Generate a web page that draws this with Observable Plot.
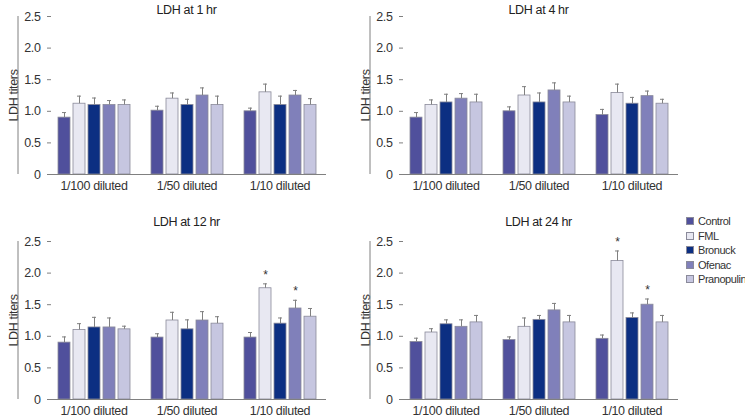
<!DOCTYPE html>
<html>
<head>
<meta charset="utf-8">
<script src="https://cdn.jsdelivr.net/npm/d3@7"></script>
<script src="https://cdn.jsdelivr.net/npm/@observablehq/plot@0.6"></script>
<style>
  html, body { margin: 0; padding: 0; background: #fff; overflow: hidden; }
  #root { position: relative; width: 745px; height: 417px; font-family: "Liberation Sans", Arial, sans-serif; color: #333; }
  .panel { position: absolute; }
  .panel svg text { letter-spacing: -0.35px; }
  .title { position: absolute; font-size: 12.5px; letter-spacing: -0.35px; transform: translate(-50%, -50%); white-space: nowrap; color: #222; }
  .legend { position: absolute; left: 686px; top: 214px; font-size: 11px; letter-spacing: -0.45px; color: #333; }
  .legend div { display: flex; align-items: center; height: 14.5px; white-space: nowrap; }
  .legend span.sw { display: inline-block; width: 6px; height: 6px; border: 1px solid #8a8a9a; margin-right: 4px; }
</style>
</head>
<body>
<div id="root"></div>
<script>
const groups = ["1/100 diluted", "1/50 diluted", "1/10 diluted"];
const series = ["Control", "FML", "Bronuck", "Ofenac", "Pranopulin"];
const seriesColors = ["#50509c", "#e8e8f2", "#0c2f82", "#8080ba", "#c6c6e0"];
const titles = ["LDH at 1 hr", "LDH at 4 hr", "LDH at 12 hr", "LDH at 24 hr"];

// means per group (rows) x series (cols)
const mean1hr = [[0.90, 1.12, 1.10, 1.10, 1.10], [1.01, 1.20, 1.10, 1.25, 1.10], [1.00, 1.30, 1.10, 1.25, 1.10]];
const err1hr  = [[0.08, 0.12, 0.11, 0.07, 0.08], [0.07, 0.09, 0.09, 0.12, 0.14], [0.05, 0.13, 0.14, 0.08, 0.10]];
const mean4hr = [[0.90, 1.10, 1.14, 1.20, 1.14], [1.00, 1.25, 1.14, 1.33, 1.14], [0.94, 1.29, 1.12, 1.24, 1.12]];
const err4hr  = [[0.08, 0.08, 0.13, 0.08, 0.13], [0.07, 0.14, 0.15, 0.12, 0.10], [0.09, 0.14, 0.10, 0.08, 0.07]];
const mean12hr = [[0.90, 1.10, 1.14, 1.14, 1.11], [0.98, 1.25, 1.11, 1.25, 1.20], [0.98, 1.76, 1.20, 1.44, 1.31]];
const err12hr  = [[0.09, 0.10, 0.16, 0.15, 0.05], [0.06, 0.13, 0.15, 0.14, 0.11], [0.08, 0.07, 0.09, 0.13, 0.13]];
const mean24hr = [[0.91, 1.06, 1.19, 1.15, 1.22], [0.94, 1.15, 1.26, 1.41, 1.22], [0.96, 2.19, 1.29, 1.50, 1.22]];
const err24hr  = [[0.06, 0.06, 0.07, 0.11, 0.11], [0.05, 0.14, 0.07, 0.11, 0.11], [0.06, 0.16, 0.08, 0.09, 0.11]];
// significant bars: [group, series]
const sig1hr = [];
const sig4hr = [];
const sig12hr = [["1/10 diluted", "FML"], ["1/10 diluted", "Ofenac"]];
const sig24hr = [["1/10 diluted", "FML"], ["1/10 diluted", "Ofenac"]];

const panels = [
  {title: titles[0], mean: mean1hr, err: err1hr, sig: sig1hr, left: 0, top: 0},
  {title: titles[1], mean: mean4hr, err: err4hr, sig: sig4hr, left: 352, top: 0},
  {title: titles[2], mean: mean12hr, err: err12hr, sig: sig12hr, left: 0, top: 225},
  {title: titles[3], mean: mean24hr, err: err24hr, sig: sig24hr, left: 352, top: 225}
];

const root = document.getElementById("root");
const W = 340, H = 200, ML = 47, MR = 14, MT = 16, MB = 26;
const axisGray = "#808080";

for (const p of panels) {
  const rows = [];
  groups.forEach((g, gi) => series.forEach((s, si) => {
    rows.push({group: g, series: s, value: p.mean[gi][si], top: p.mean[gi][si] + p.err[gi][si],
               sig: p.sig.some(([sg, ss]) => sg === g && ss === s)});
  }));
  const seps = groups.slice(1);
  const groupW = (W - ML - MR) / groups.length;

  const chart = Plot.plot({
    width: W, height: H,
    marginLeft: ML, marginRight: MR, marginTop: MT, marginBottom: MB,
    style: {fontFamily: '"Liberation Sans", Arial, sans-serif', fontSize: "12.5px", color: "#333", background: "transparent", overflow: "visible"},
    fx: {domain: groups, padding: 0, label: null, axis: null},
    x: {domain: series, paddingInner: 0.2, paddingOuter: 0.7, axis: null},
    y: {domain: [0, 2.5], axis: null},
    color: {domain: series, range: seriesColors},
    marks: [
      Plot.barY(rows, {fx: "group", x: "series", y: "value", fill: "series", stroke: "#8a8a9a", strokeWidth: 0.8}),
      Plot.ruleX(rows, {fx: "group", x: "series", y1: "value", y2: "top", stroke: axisGray, strokeWidth: 1}),
      Plot.tickY(rows, {fx: "group", x: "series", y: "top", stroke: axisGray, strokeWidth: 1, insetLeft: 4, insetRight: 4}),
      Plot.text(rows.filter(d => d.sig), {fx: "group", x: "series", y: "top", text: () => "*", dy: -9, fontSize: 12, fill: "#333"}),
      Plot.ruleY([0], {stroke: axisGray, strokeWidth: 1}),
      Plot.ruleX(seps, {fx: d => d, y1: 0, y2: 0.06, dx: -groupW / 2, stroke: axisGray}),
      Plot.axisFx({anchor: "bottom", tickSize: 0, tickPadding: 7, label: null, fontSize: 12.5, fill: "#333"}),
      Plot.axisY({ticks: 5, anchor: "left", tickSize: -4, tickPadding: 11, stroke: axisGray,
                  tickFormat: d => d === 0 ? "0" : d.toFixed(1), fontSize: 12.5, fill: "#333",
                  label: "LDH titers", labelAnchor: "center", labelOffset: 38, labelArrow: "none"}),
      Plot.ruleX([0], {fx: () => groups[0], x: () => series[0], y1: 0, y2: 2.5, dx: -groupW / 2, stroke: axisGray})
    ]
  });
  const div = document.createElement("div");
  div.className = "panel";
  div.style.left = p.left + "px";
  div.style.top = p.top + "px";
  div.appendChild(chart);
  root.appendChild(div);

  const t = document.createElement("div");
  t.className = "title";
  t.textContent = p.title;
  t.style.left = (p.left + ML + (W - ML - MR) / 2) + "px";
  t.style.top = (p.top + (p.top === 0 ? 10 : -3)) + "px";
  root.appendChild(t);
}

const legend = document.createElement("div");
legend.className = "legend";
series.forEach((s, i) => {
  const row = document.createElement("div");
  const sw = document.createElement("span");
  sw.className = "sw";
  sw.style.background = seriesColors[i];
  row.appendChild(sw);
  row.appendChild(document.createTextNode(s));
  legend.appendChild(row);
});
root.appendChild(legend);
</script>
</body>
</html>
